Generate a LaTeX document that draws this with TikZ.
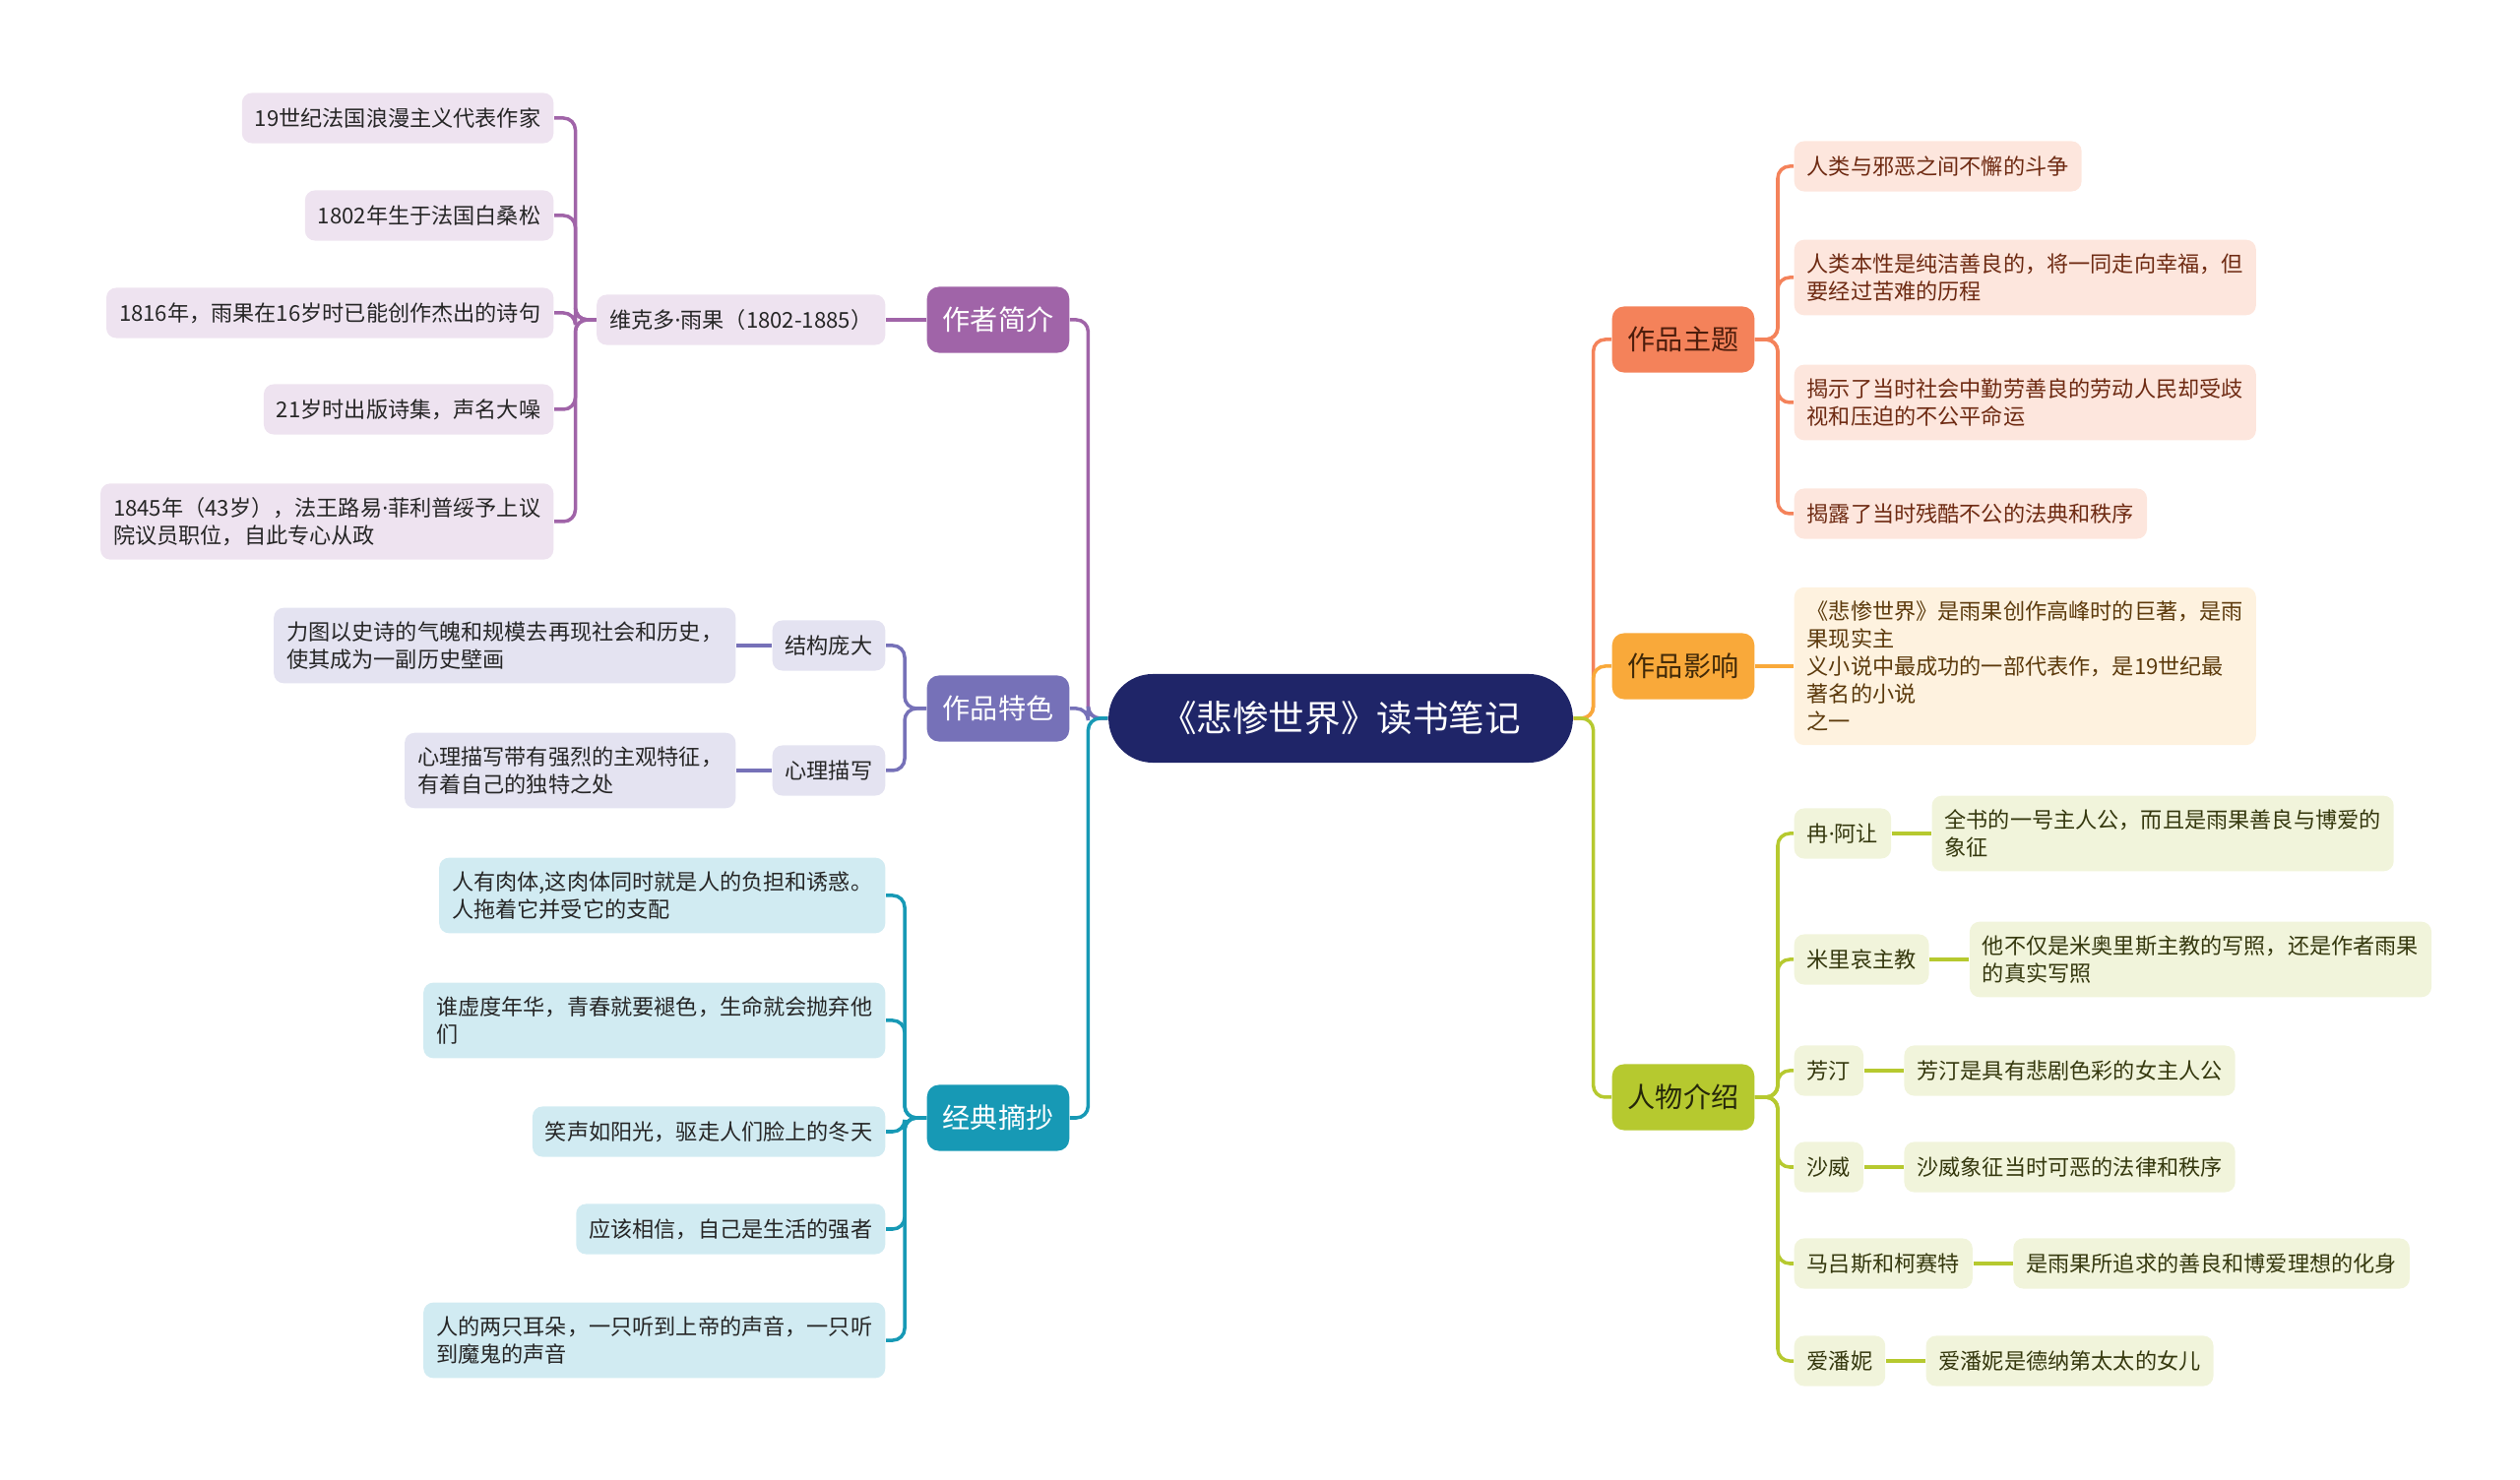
\documentclass[tikz,border=0pt]{standalone}
\usepackage{fontspec}
\setmainfont{Noto Sans CJK SC}
\newfontfamily\dotfont{Noto Sans}
\newcommand\namedot{{\dotfont ·}}
\usepackage{xcolor}
\usepackage{tikz}

\definecolor{rootclr}{HTML}{1F2568}
\definecolor{authorclr}{HTML}{A064A8}
\definecolor{authorbg}{HTML}{EEE3F0}
\definecolor{styleclr}{HTML}{7671B8}
\definecolor{stylebg}{HTML}{E4E3F1}
\definecolor{quoteclr}{HTML}{1799B5}
\definecolor{quotebg}{HTML}{D1EBF2}
\definecolor{themeclr}{HTML}{F4825A}
\definecolor{themebg}{HTML}{FDE6DD}
\definecolor{themetxt}{HTML}{6E2A12}
\definecolor{impactclr}{HTML}{F9A93A}
\definecolor{impactbg}{HTML}{FEF2DF}
\definecolor{impacttxt}{HTML}{5C3A0C}
\definecolor{roleclr}{HTML}{B6C92F}
\definecolor{rolebg}{HTML}{F1F4DB}
\definecolor{roletxt}{HTML}{35380E}
\definecolor{leaftxt}{HTML}{262626}

\tikzset{
  rootbox/.style={fill=rootclr, text=white, rounded corners=0.45cm, minimum height=0.9cm,
    inner xsep=0.53cm, font=\fontsize{10.4}{12}\selectfont},
  topic/.style={rounded corners=0.12cm, minimum height=0.67cm, inner xsep=0.16cm,
    font=\fontsize{8}{10}\selectfont},
  leaf/.style={rounded corners=0.1cm, inner xsep=0.13cm, inner ysep=0.14cm, minimum height=0.51cm,
    align=left, text=leaftxt, font=\fontsize{6.3}{7.97}\selectfont},
  link/.style={line width=0.035cm, rounded corners=0.12cm},
}

\begin{document}
\begin{tikzpicture}[x=0.01cm, y=-0.01cm]
\useasboundingbox (0,0) rectangle (2560,1504);

% centre
\node[rootbox] (book) at (1362,730) {《悲惨世界》读书笔记};

% topics
\node[topic, fill=authorclr, text=white] (author) at (1014,325) {作者简介};
\node[topic, fill=styleclr, text=white] (style) at (1014,720) {作品特色};
\node[topic, fill=quoteclr, text=white] (quote) at (1014,1136) {经典摘抄};
\node[topic, fill=themeclr, text=themetxt!70!black] (theme) at (1710,345) {作品主题};
\node[topic, fill=impactclr, text=impacttxt!70!black] (impact) at (1710,677) {作品影响};
\node[topic, fill=roleclr, text=roletxt!70!black] (role) at (1710,1115) {人物介绍};

\foreach \t/\c in {author/authorclr, style/styleclr, quote/quoteclr}
  \draw[link, \c] (book.west) -- ++(-20,0) |- (\t.east);
\foreach \t/\c in {theme/themeclr, impact/impactclr, role/roleclr}
  \draw[link, \c] (book.east) -- ++(20,0) |- (\t.west);

% author
\node[leaf, fill=authorbg, anchor=east] (hugo) at (900,325) {维克多\namedot 雨果（1802-1885）};
\draw[link, authorclr] (author.west) -- (hugo.east);
\foreach \y/\s [count=\i] in {120/{19世纪法国浪漫主义代表作家}, 219/{1802年生于法国白桑松},
    318/{1816年，雨果在16岁时已能创作杰出的诗句}, 416/{21岁时出版诗集，声名大噪},
    530/{1845年（43岁），法王路易\namedot 菲利普绥予上议\\院议员职位，自此专心从政}} {
  \node[leaf, fill=authorbg, anchor=east] (au\i) at (563,\y) {\s};
  \draw[link, authorclr] (hugo.west) -- ++(-21,0) |- (au\i.east);
}

% style
\node[leaf, fill=stylebg, anchor=east] (big) at (900,656) {结构庞大};
\node[leaf, fill=stylebg, anchor=east] (mind) at (900,783) {心理描写};
\node[leaf, fill=stylebg, anchor=east] (bigtxt) at (748,656) {力图以史诗的气魄和规模去再现社会和历史，\\使其成为一副历史壁画};
\node[leaf, fill=stylebg, anchor=east] (mindtxt) at (748,783) {心理描写带有强烈的主观特征，\\有着自己的独特之处};
\foreach \n in {big, mind} {
  \draw[link, styleclr] (style.west) -- ++(-22,0) |- (\n.east);
  \draw[link, styleclr] (\n.west) -- (\n txt.east);
}

% quotes
\foreach \y/\s [count=\i] in {910/{人有肉体,这肉体同时就是人的负担和诱惑。\\人拖着它并受它的支配},
    1037/{谁虚度年华，青春就要褪色，生命就会抛弃他\\们}, 1150/{笑声如阳光，驱走人们脸上的冬天},
    1249/{应该相信，自己是生活的强者}, 1362/{人的两只耳朵，一只听到上帝的声音，一只听\\到魔鬼的声音}} {
  \node[leaf, fill=quotebg, anchor=east] (qu\i) at (900,\y) {\s};
  \draw[link, quoteclr] (quote.west) -- ++(-22,0) |- (qu\i.east);
}

% theme
\foreach \y/\s [count=\i] in {169/{人类与邪恶之间不懈的斗争},
    282/{人类本性是纯洁善良的，将一同走向幸福，但\\要经过苦难的历程},
    409/{揭示了当时社会中勤劳善良的劳动人民却受歧\\视和压迫的不公平命运}, 522/{揭露了当时残酷不公的法典和秩序}} {
  \node[leaf, fill=themebg, text=themetxt, anchor=west] (th\i) at (1822,\y) {\s};
  \draw[link, themeclr] (theme.east) -- ++(23,0) |- (th\i.west);
}

% impact
\node[leaf, fill=impactbg, text=impacttxt, anchor=west] (im1) at (1822,677)
  {《悲惨世界》是雨果创作高峰时的巨著，是雨\\果现实主\\义小说中最成功的一部代表作，是19世纪最\\著名的小说\\之一};
\draw[link, impactclr] (impact.east) -- (im1.west);

% roles
\foreach \y/\n/\s [count=\i] in {847/冉\namedot 阿让/{全书的一号主人公，而且是雨果善良与博爱的\\象征},
    975/米里哀主教/{他不仅是米奥里斯主教的写照，还是作者雨果\\的真实写照},
    1088/芳汀/{芳汀是具有悲剧色彩的女主人公}, 1186/沙威/{沙威象征当时可恶的法律和秩序},
    1284/马吕斯和柯赛特/{是雨果所追求的善良和博爱理想的化身}, 1383/爱潘妮/{爱潘妮是德纳第太太的女儿}} {
  \node[leaf, fill=rolebg, text=roletxt, anchor=west] (ro\i) at (1822,\y) {\n};
  \node[leaf, fill=rolebg, text=roletxt, anchor=west] (rd\i) at ([xshift=0.4cm]ro\i.east) {\s};
  \draw[link, roleclr] (role.east) -- ++(23,0) |- (ro\i.west);
  \draw[link, roleclr] (ro\i.east) -- (rd\i.west);
}
\end{tikzpicture}
\end{document}
